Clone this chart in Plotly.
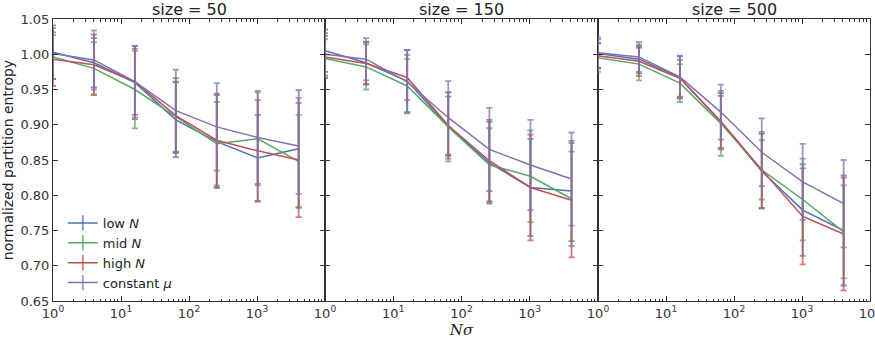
import plotly.graph_objects as go

n_sigma = [1, 4, 16, 64, 256, 1024, 4096]
panel_sizes = [50, 150, 500]
series_names = ["low <i>N</i>", "mid <i>N</i>", "high <i>N</i>", "constant <i>μ</i>"]
series_colors = ["#4C72B0", "#55A868", "#C44E52", "#8172B2"]
err_colors = ["rgba(76,114,176,0.75)", "rgba(85,168,104,0.75)", "rgba(196,78,82,0.75)", "rgba(129,114,178,0.75)"]

# size = 50
low_50 = [1.003, 0.988, 0.960, 0.907, 0.876, 0.853, 0.866]
low_50_sd = [0.038, 0.035, 0.052, 0.053, 0.066, 0.061, 0.083]
mid_50 = [0.996, 0.980, 0.950, 0.911, 0.873, 0.880, 0.848]
mid_50_sd = [0.031, 0.037, 0.055, 0.050, 0.059, 0.066, 0.066]
high_50 = [0.993, 0.985, 0.961, 0.913, 0.878, 0.863, 0.850]
high_50_sd = [0.038, 0.043, 0.047, 0.053, 0.066, 0.072, 0.081]
const_50 = [1.001, 0.992, 0.961, 0.920, 0.897, 0.882, 0.870]
const_50_sd = [0.036, 0.042, 0.051, 0.058, 0.062, 0.066, 0.068]

# size = 150
low_150 = [1.005, 0.988, 0.962, 0.898, 0.846, 0.811, 0.806]
low_150_sd = [0.030, 0.030, 0.044, 0.042, 0.058, 0.069, 0.071]
mid_150 = [0.994, 0.982, 0.955, 0.897, 0.843, 0.827, 0.795]
mid_150_sd = [0.027, 0.032, 0.038, 0.049, 0.052, 0.065, 0.067]
high_150 = [0.996, 0.987, 0.967, 0.899, 0.849, 0.811, 0.793]
high_150_sd = [0.030, 0.030, 0.032, 0.047, 0.058, 0.075, 0.081]
const_150 = [1.000, 0.993, 0.961, 0.910, 0.865, 0.843, 0.823]
const_150_sd = [0.030, 0.030, 0.045, 0.052, 0.059, 0.064, 0.066]

# size = 500
low_500 = [1.001, 0.993, 0.967, 0.904, 0.834, 0.779, 0.750]
low_500_sd = [0.020, 0.020, 0.030, 0.037, 0.053, 0.065, 0.078]
mid_500 = [0.995, 0.986, 0.959, 0.902, 0.836, 0.794, 0.748]
mid_500_sd = [0.020, 0.023, 0.027, 0.046, 0.042, 0.058, 0.066]
high_500 = [0.998, 0.990, 0.966, 0.905, 0.836, 0.770, 0.745]
high_500_sd = [0.018, 0.021, 0.026, 0.040, 0.054, 0.068, 0.080]
const_500 = [1.002, 0.996, 0.968, 0.918, 0.861, 0.819, 0.788]
const_500_sd = [0.022, 0.021, 0.030, 0.039, 0.048, 0.054, 0.062]

panels = [
    [(low_50, low_50_sd), (mid_50, mid_50_sd), (high_50, high_50_sd), (const_50, const_50_sd)],
    [(low_150, low_150_sd), (mid_150, mid_150_sd), (high_150, high_150_sd), (const_150, const_150_sd)],
    [(low_500, low_500_sd), (mid_500, mid_500_sd), (high_500, high_500_sd), (const_500, const_500_sd)],
]

FONT = "DejaVu Sans"
domains = [[0.0, 272 / 817], [272 / 817, 545 / 817], [545 / 817, 1.0]]
major_vals = [1, 10, 100, 1000, 10000]
minor_vals = [m * 10 ** e for e in range(4) for m in range(2, 10)]

fig = go.Figure()
for p, series in enumerate(panels):
    xa = "x" if p == 0 else f"x{p+1}"
    ya = "y" if p == 0 else f"y{p+1}"
    for s, (mean, sd) in enumerate(series):
        fig.add_trace(go.Scatter(
            x=n_sigma, y=mean, mode="lines",
            line=dict(color=series_colors[s], width=1.5),
            error_y=dict(type="data", array=sd, visible=True, color=err_colors[s],
                         thickness=1.8, width=3),
            name=series_names[s], showlegend=False, legendgroup=str(s),
            xaxis=xa, yaxis=ya,
        ))

# legend entries (errorbar-like symbol)
for s in range(4):
    fig.add_trace(go.Scatter(
        x=[None], y=[None], mode="lines+markers",
        line=dict(color=series_colors[s], width=1.5),
        marker=dict(symbol="line-ns", size=11, line=dict(width=1.8, color=err_colors[s])),
        name=series_names[s], legendgroup=str(s), showlegend=True,
        xaxis="x", yaxis="y",
    ))

layout = dict(
    width=875, height=340,
    margin=dict(l=53, r=5, t=19, b=39, autoexpand=False),
    plot_bgcolor="white", paper_bgcolor="white",
    font=dict(family=FONT, size=13, color="#333"),
    showlegend=True,
    legend=dict(x=0.012, y=0.33, xanchor="left", yanchor="top",
                bgcolor="rgba(0,0,0,0)", font=dict(size=13, family=FONT, color="#222"),
                tracegroupgap=0, itemwidth=30),
    annotations=[],
)
for p in range(3):
    key = "" if p == 0 else str(p + 1)
    labels = ["10<sup>0</sup>", "10<sup>1</sup>", "10<sup>2</sup>", "10<sup>3</sup>",
              "10<sup>4</sup>" if p == 2 else " "]
    layout["xaxis" + key] = dict(
        type="log", range=[0, 4], domain=domains[p], anchor="y" + key,
        tickmode="array", tickvals=major_vals, ticktext=labels,
        ticklabeloverflow="allow", automargin=False,
        ticks="inside", ticklen=5, tickcolor="#333", showline=True, linecolor="#333",
        linewidth=1, mirror="ticks", showgrid=False, zeroline=False,
        minor=dict(tickmode="array", tickvals=minor_vals, ticks="inside", ticklen=2.5,
                   tickcolor="#333", showgrid=False),
        tickfont=dict(size=13, color="#333"),
    )
    layout["yaxis" + key] = dict(
        range=[0.65, 1.05], dtick=0.05, tickformat=".2f", anchor="x" + key,
        automargin=False,
        ticks="inside", ticklen=5, tickcolor="#333", showline=True, linecolor="#333",
        linewidth=1, mirror="ticks", showgrid=False, zeroline=False,
        showticklabels=(p == 0), tickfont=dict(size=13, color="#333"),
    )
    if p > 0:
        layout["yaxis" + key]["matches"] = "y"
    layout["annotations"].append(dict(
        text=f"size = {panel_sizes[p]}", xref="paper", yref="paper",
        x=(domains[p][0] + domains[p][1]) / 2, y=1.0, xanchor="center", yanchor="bottom",
        yshift=-2, showarrow=False, font=dict(size=16, family=FONT, color="#222"),
    ))
layout["yaxis"]["title"] = dict(text="normalized partition entropy", font=dict(size=14, family=FONT, color="#222"), standoff=6)
layout["xaxis2"]["title"] = dict(text="<i>Nσ</i>", font=dict(size=15, family="DejaVu Serif", color="#222"), standoff=2)

fig.update_layout(**layout)
fig.write_html("out.html")
